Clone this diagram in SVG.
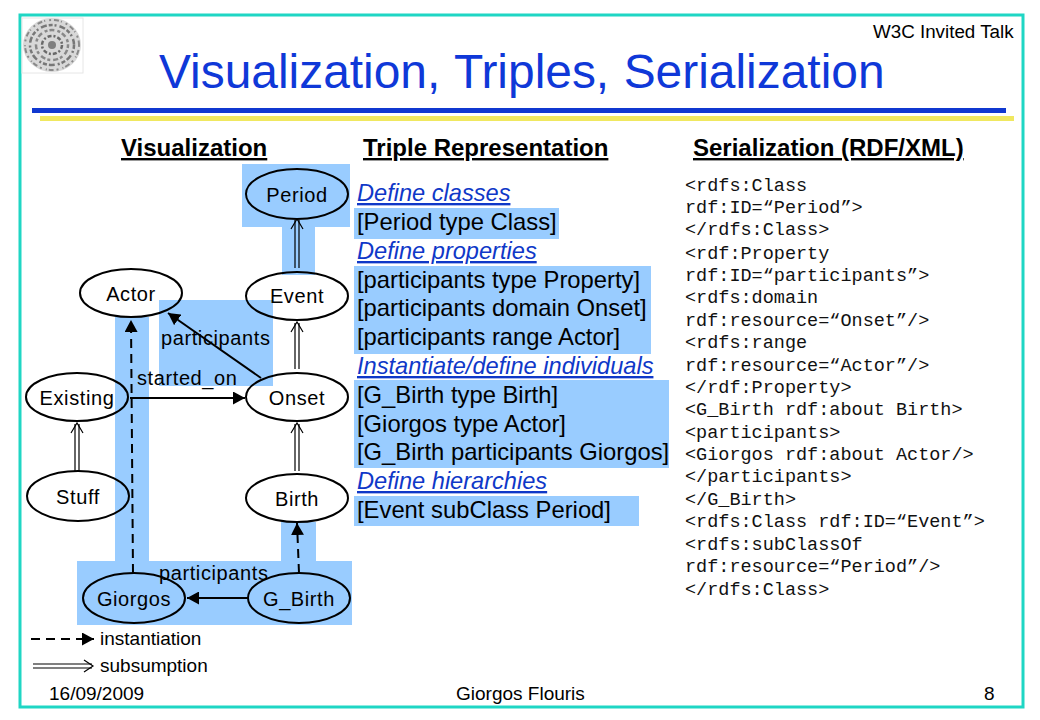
<svg xmlns="http://www.w3.org/2000/svg" width="1040" height="720" viewBox="0 0 1040 720">
<defs>
<marker id="solid" markerWidth="14" markerHeight="13" refX="12" refY="6.500" orient="auto" markerUnits="userSpaceOnUse"><path d="M0 0L12 6.500L0 13Z" fill="#000"/></marker>
<g id="open-up"><path d="M-6 10L0 0L6 10" fill="none" stroke="#000" stroke-width="1.200"/></g>
</defs>
<style>
text{font-family:"Liberation Sans",Arial,sans-serif;fill:#000}
.hl{fill:#99ccff}
.node ellipse{fill:none;stroke:#000;stroke-width:2}
.lbl{font-size:20px;letter-spacing:.6px}
.leg{font-size:19px}
.n{font-size:20px;letter-spacing:.6px;text-anchor:middle}
.h{font-size:24px;font-weight:bold;text-decoration:underline}
.t{font-size:23.800px}
.s{font-size:23.600px;font-style:italic;fill:#0f38c8;text-decoration:underline}
.m{font-family:"Liberation Mono","Courier New",monospace;font-size:18.500px;fill:#111}
.ln{fill:none;stroke:#000;stroke-width:2}
.th{fill:none;stroke:#000;stroke-width:1.200}
.f{font-size:19px}
</style>
<rect x="0" y="0" width="1040" height="720" fill="#fff"/>
<rect x="20" y="15" width="1003" height="692" fill="#fff" stroke="#1fd6c4" stroke-width="3"/>
<g id="logo">
<rect x="22" y="18" width="61" height="55" fill="#fff" stroke="#e6e6e6"/>
<ellipse cx="52" cy="45" rx="29" ry="27" fill="#d8d8d8"/>
<ellipse cx="52" cy="45" rx="27" ry="25" fill="none" stroke="#8a8a8a" stroke-width="2" stroke-dasharray="2 3 5 2 1 4"/>
<ellipse cx="52" cy="45" rx="22" ry="20" fill="none" stroke="#777" stroke-width="2.500" stroke-dasharray="4 2 2 3 6 2"/>
<ellipse cx="52" cy="45" rx="16" ry="15" fill="none" stroke="#888" stroke-width="2.500" stroke-dasharray="3 2 5 3"/>
<ellipse cx="52" cy="45" rx="10" ry="9" fill="none" stroke="#6a6a6a" stroke-width="2.500" stroke-dasharray="4 2 2 2"/>
<ellipse cx="52" cy="45" rx="4" ry="4" fill="#808080"/>
</g>
<rect x="32" y="108" width="974" height="5" fill="#1038d0"/>
<rect x="40" y="116" width="974" height="5" fill="#f0e860"/>
<text x="873" y="38" style="font-size:18.800px">W3C Invited Talk</text>
<text x="159" y="88" font-size="47.900" word-spacing="1.200" style="fill:#0f38d8">Visualization, Triples, Serialization</text>
<text x="121" y="156" class="h">Visualization</text>
<text x="363" y="156" class="h">Triple Representation</text>
<text x="693" y="156" class="h">Serialization (RDF/XML)</text>
<g id="highlights">
<rect class="hl" x="242" y="164" width="108" height="63"/>
<rect class="hl" x="282" y="227" width="33" height="48"/>
<rect class="hl" x="159" y="300" width="114" height="86"/>
<rect class="hl" x="115" y="317" width="34" height="244"/>
<rect class="hl" x="281" y="522" width="35" height="39"/>
<rect class="hl" x="77" y="561" width="275" height="64"/>
<rect class="hl" x="354" y="208" width="205" height="31"/>
<rect class="hl" x="354" y="266" width="297" height="88"/>
<rect class="hl" x="354" y="380" width="315" height="88"/>
<rect class="hl" x="354" y="496" width="285" height="30"/>
</g>
<g id="connectors">
<path class="th" d="M295 268V220M299 268V220"/><use href="#open-up" x="297" y="219"/>
<path class="th" d="M295 369V323M299 369V323"/><use href="#open-up" x="297" y="322"/>
<path class="th" d="M295 471V424M299 471V424"/><use href="#open-up" x="297" y="423"/>
<path class="th" d="M75 471V424M79 471V424"/><use href="#open-up" x="77" y="423"/>
<path class="ln" d="M261 378L168 313" marker-end="url(#solid)"/>
<path class="ln" d="M130 398H245" marker-end="url(#solid)"/>
<path class="ln" stroke-dasharray="9 6" d="M133 573L131 320" marker-end="url(#solid)"/>
<path class="ln" stroke-dasharray="9 6" d="M299 573L297 523" marker-end="url(#solid)"/>
<path class="ln" d="M248 598H187" marker-end="url(#solid)"/>
<path class="ln" stroke-dasharray="9 6" d="M31 639H94" marker-end="url(#solid)"/>
<path class="th" d="M33 664H92M33 668H92"/><path class="th" d="M84 660L93 666L84 672"/>
</g>
<g id="node-period" class="node"><ellipse cx="297" cy="194" rx="51" ry="25"/><text class="n" x="297" y="202">Period</text></g>
<g id="node-actor" class="node"><ellipse cx="131" cy="293" rx="51" ry="24"/><text class="n" x="131" y="301">Actor</text></g>
<g id="node-event" class="node"><ellipse cx="297" cy="296" rx="51" ry="24"/><text class="n" x="297" y="303">Event</text></g>
<g id="node-existing" class="node"><ellipse cx="77" cy="397" rx="51" ry="24"/><text class="n" x="77" y="405">Existing</text></g>
<g id="node-onset" class="node"><ellipse cx="297" cy="397" rx="51" ry="24"/><text class="n" x="297" y="405">Onset</text></g>
<g id="node-stuff" class="node"><ellipse cx="78" cy="496" rx="51" ry="25"/><text class="n" x="78" y="504">Stuff</text></g>
<g id="node-birth" class="node"><ellipse cx="297" cy="498" rx="51" ry="24"/><text class="n" x="297" y="506">Birth</text></g>
<g id="node-giorgos" class="node"><ellipse cx="134" cy="598" rx="51" ry="25"/><text class="n" x="134" y="606">Giorgos</text></g>
<g id="node-gbirth" class="node"><ellipse cx="299" cy="598" rx="51" ry="25"/><text class="n" x="299" y="606">G_Birth</text></g>
<text class="lbl" x="161" y="345">participants</text>
<text class="lbl" x="137" y="385">started_on</text>
<text class="lbl" x="159" y="580">participants</text>
<text class="leg" x="100" y="645">instantiation</text>
<text class="leg" x="100" y="672">subsumption</text>
<text class="s" x="357" y="201">Define classes</text>
<text class="t" x="357" y="230">[Period type Class]</text>
<text class="s" x="357" y="259">Define properties</text>
<text class="t" x="357" y="288">[participants type Property]</text>
<text class="t" x="357" y="316">[participants domain Onset]</text>
<text class="t" x="357" y="345">[participants range Actor]</text>
<text class="s" x="357" y="374">Instantiate/define individuals</text>
<text class="t" x="357" y="403">[G_Birth type Birth]</text>
<text class="t" x="357" y="432">[Giorgos type Actor]</text>
<text class="t" x="357" y="460">[G_Birth participants Giorgos]</text>
<text class="s" x="357" y="489">Define hierarchies</text>
<text class="t" x="357" y="518">[Event subClass Period]</text>
<text class="m" x="685" y="191">&lt;rdfs:Class</text>
<text class="m" x="685" y="213">rdf:ID=“Period”&gt;</text>
<text class="m" x="685" y="235">&lt;/rdfs:Class&gt;</text>
<text class="m" x="685" y="259">&lt;rdf:Property</text>
<text class="m" x="685" y="281">rdf:ID=“participants”&gt;</text>
<text class="m" x="685" y="303">&lt;rdfs:domain</text>
<text class="m" x="685" y="326">rdf:resource=“Onset”/&gt;</text>
<text class="m" x="685" y="348">&lt;rdfs:range</text>
<text class="m" x="685" y="371">rdf:resource=“Actor”/&gt;</text>
<text class="m" x="685" y="393">&lt;/rdf:Property&gt;</text>
<text class="m" x="685" y="415">&lt;G_Birth rdf:about Birth&gt;</text>
<text class="m" x="685" y="438">&lt;participants&gt;</text>
<text class="m" x="685" y="460">&lt;Giorgos rdf:about Actor/&gt;</text>
<text class="m" x="685" y="482">&lt;/participants&gt;</text>
<text class="m" x="685" y="505">&lt;/G_Birth&gt;</text>
<text class="m" x="685" y="527">&lt;rdfs:Class rdf:ID=“Event”&gt;</text>
<text class="m" x="685" y="550">&lt;rdfs:subClassOf</text>
<text class="m" x="685" y="572">rdf:resource=“Period”/&gt;</text>
<text class="m" x="685" y="595">&lt;/rdfs:Class&gt;</text>
<text class="f" x="49" y="700">16/09/2009</text>
<text class="f" x="456" y="700">Giorgos Flouris</text>
<text class="f" x="984" y="700">8</text>
</svg>
